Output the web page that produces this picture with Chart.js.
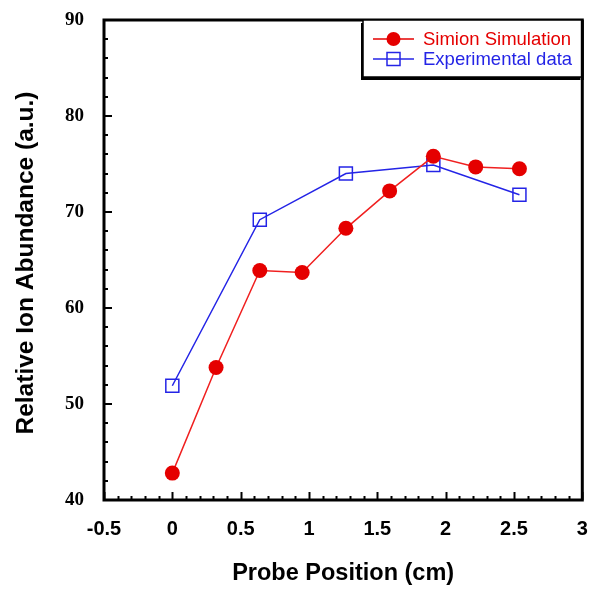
<!DOCTYPE html>
<html lang="en">
<head>
<meta charset="UTF-8">
<title>Relative Ion Abundance vs Probe Position</title>
<script src="https://cdn.jsdelivr.net/npm/chart.js@4.4.0/dist/chart.umd.min.js"></script>
<style>
  * { margin: 0; padding: 0; box-sizing: border-box; }
  body { background: #fff; width: 593px; height: 589px; overflow: hidden; }
  #chart { display: block; }
</style>
</head>
<body>
<canvas id="chart" width="593" height="589"></canvas>
<script>
// Simion Simulation
const simX = [0, 0.32, 0.64, 0.95, 1.27, 1.59, 1.91, 2.22, 2.54];
const simY = [42.8, 53.8, 63.9, 63.7, 68.3, 72.2, 75.8, 74.7, 74.5];

// Experimental data
const expX = [0, 0.64, 1.27, 1.91, 2.54];
const expY = [51.9, 69.2, 74.0, 74.9, 71.8];

const seriesNames = ['Simion Simulation', 'Experimental data'];
const xTitle = 'Probe Position (cm)';
const yTitle = 'Relative Ion Abundance (a.u.)';

const RED = '#e50000';
const RED_LINE = '#f02020';
const BLUE = '#2424e6';

const toPts = (xs, ys) => xs.map((x, i) => ({ x: x, y: ys[i] }));

// frame, inside ticks, axis titles and legend
const decor = {
  id: 'decor',
  afterDraw(chart) {
    const ctx = chart.ctx;
    const a = chart.chartArea;
    const xs = chart.scales.x, ys = chart.scales.y;
    ctx.save();
    ctx.strokeStyle = '#000';
    ctx.lineCap = 'butt';

    // minor / major ticks, pointing into the plot
    ctx.lineWidth = 2;
    for (let i = 0; i <= 35; i++) {
      const v = -0.5 + i * 0.1;
      const px = Math.round(xs.getPixelForValue(v)) + 0.5;
      const len = (i % 5 === 0) ? 8 : 4;
      ctx.beginPath(); ctx.moveTo(px, a.bottom); ctx.lineTo(px, a.bottom - len); ctx.stroke();
    }
    for (let v = 40; v <= 90; v += 2) {
      const py = Math.round(ys.getPixelForValue(v));
      const len = (v % 10 === 0) ? 8 : 4;
      ctx.beginPath(); ctx.moveTo(a.left, py); ctx.lineTo(a.left + len, py); ctx.stroke();
    }

    // frame
    ctx.lineWidth = 3;
    ctx.strokeRect(a.left, a.top, a.right - a.left, a.bottom - a.top);

    // axis titles
    ctx.fillStyle = '#000';
    ctx.textAlign = 'center';
    ctx.textBaseline = 'alphabetic';
    ctx.font = 'bold 23.5px "Liberation Sans", Arial, sans-serif';
    ctx.fillText(xTitle, (a.left + a.right) / 2, 580);
    ctx.save();
    ctx.translate(33, 263);
    ctx.rotate(-Math.PI / 2);
    ctx.font = 'bold 24.5px "Liberation Sans", Arial, sans-serif';
    ctx.fillText(yTitle, 0, 0);
    ctx.restore();

    // legend box with shadow
    const bx = 363, by = 20, bw = a.right - bx, bh = 57;
    ctx.fillStyle = '#000';
    ctx.fillRect(bx - 2, by + 3, bw, bh);
    ctx.fillStyle = '#fff';
    ctx.fillRect(bx, by, bw, bh);
    ctx.lineWidth = 1.5;
    ctx.strokeRect(bx, by, bw, bh);
    ctx.lineWidth = 3;
    ctx.beginPath(); ctx.moveTo(a.right, a.top); ctx.lineTo(a.right, by + bh + 3); ctx.stroke();

    const rows = [
      { name: seriesNames[0], color: RED, y: 39, marker: 'circle' },
      { name: seriesNames[1], color: BLUE, y: 59, marker: 'square' }
    ];
    ctx.font = '18.5px "Liberation Sans", Arial, sans-serif';
    ctx.textAlign = 'left';
    ctx.textBaseline = 'middle';
    rows.forEach(r => {
      ctx.strokeStyle = r.color;
      ctx.lineWidth = 1.5;
      ctx.beginPath(); ctx.moveTo(373, r.y); ctx.lineTo(414, r.y); ctx.stroke();
      if (r.marker === 'circle') {
        ctx.fillStyle = r.color;
        ctx.beginPath(); ctx.arc(393.5, r.y, 7, 0, Math.PI * 2); ctx.fill();
      } else {
        ctx.strokeRect(387, r.y - 6.5, 13, 13);
      }
      ctx.fillStyle = r.color;
      ctx.fillText(r.name, 423, r.y + 1);
    });
    ctx.restore();
  }
};

new Chart(document.getElementById('chart'), {
  type: 'scatter',
  data: {
    datasets: [
      {
        label: seriesNames[0],
        data: toPts(simX, simY),
        showLine: true,
        borderColor: RED_LINE,
        borderWidth: 1.5,
        pointStyle: 'circle',
        pointRadius: 7.5,
        pointBackgroundColor: RED,
        pointBorderColor: RED,
        pointBorderWidth: 0
      },
      {
        label: seriesNames[1],
        data: toPts(expX, expY),
        showLine: true,
        borderColor: BLUE,
        borderWidth: 1.5,
        pointStyle: 'rect',
        pointRadius: 9.2,
        pointBackgroundColor: 'rgba(0,0,0,0)',
        pointBorderColor: BLUE,
        pointBorderWidth: 1.5
      }
    ]
  },
  options: {
    responsive: false,
    animation: false,
    devicePixelRatio: 1,
    layout: { padding: { left: 0, right: 8, top: 20, bottom: 0 } },
    plugins: { legend: { display: false }, tooltip: { enabled: false } },
    scales: {
      x: {
        type: 'linear',
        min: -0.5, max: 3,
        grid: { display: false, drawTicks: false },
        border: { display: false },
        afterFit(s) {
          s.height = 89;
          s.paddingLeft = 0; s.paddingRight = 0;
        },
        ticks: {
          stepSize: 0.5,
          padding: 17,
          maxRotation: 0,
          autoSkip: false,
          color: '#000',
          font: { family: '"Liberation Sans", Arial, sans-serif', size: 20, weight: 'bold' },
          callback: v => String(Math.round(v * 2) / 2)
        }
      },
      y: {
        type: 'linear',
        min: 40, max: 90,
        grid: { display: false, drawTicks: false },
        border: { display: false },
        afterFit(s) {
          s.width = 104;
          s.paddingTop = 0; s.paddingBottom = 0;
        },
        ticks: {
          stepSize: 10,
          padding: 20,
          color: '#000',
          font: { family: '"Liberation Serif", "Times New Roman", serif', size: 19, weight: 'bold' }
        }
      }
    }
  },
  plugins: [decor]
});
</script>
</body>
</html>
